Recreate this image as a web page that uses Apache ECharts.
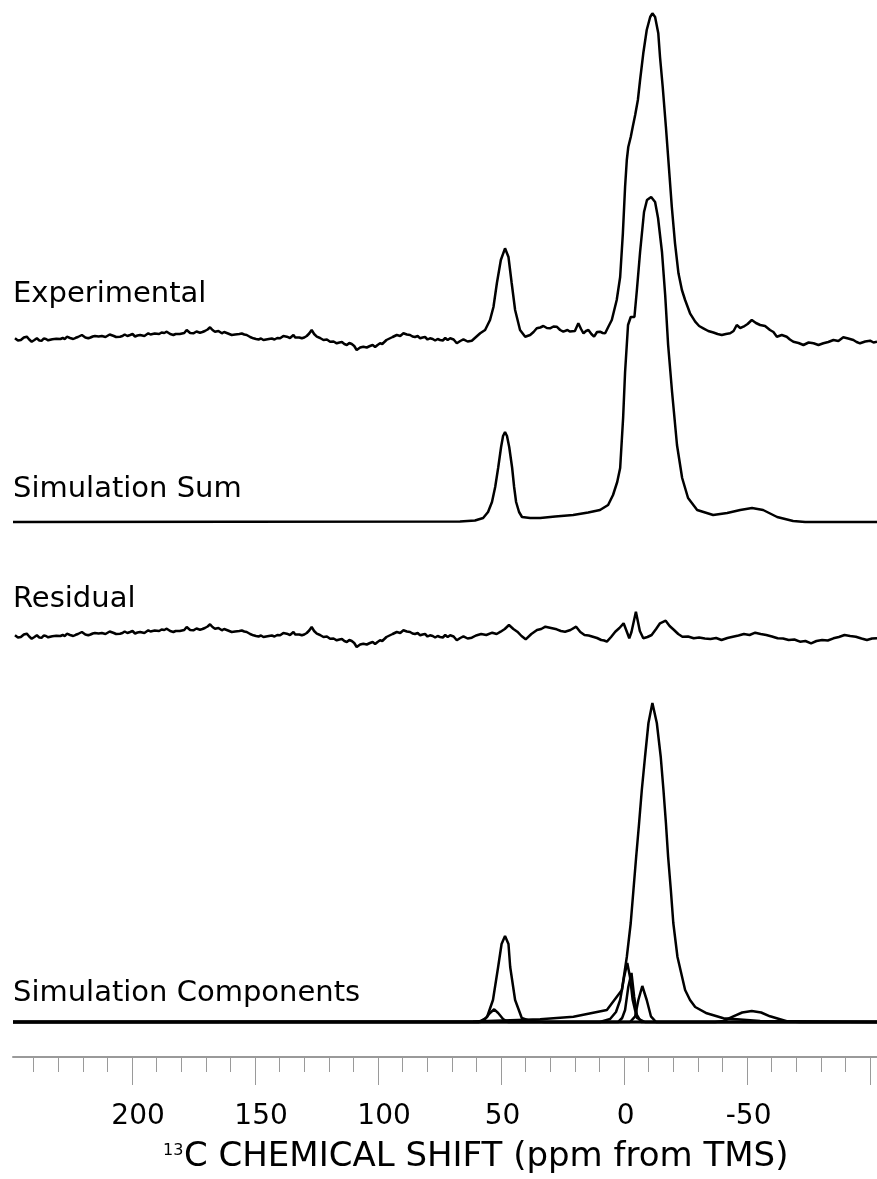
<!DOCTYPE html>
<html><head><meta charset="utf-8">
<script src="https://cdn.jsdelivr.net/npm/echarts@6/dist/echarts.min.js"></script>
<style>html,body{margin:0;padding:0;background:#fff}#c{width:877px;height:1179px}</style>
</head><body><div id="c"></div>
<script>
// x range (ppm), reversed axis
const xMin = -102.8, xMax = 248.4;
const minorTicks = [240,230,220,210,200,190,180,170,160,150,140,130,120,110,100,90,80,70,60,50,40,30,20,10,0,-10,-20,-30,-40,-50,-60,-70,-80,-90,-100];
const majorTicks = [200,150,100,50,0,-50,-100];
const tickLabels = [200,150,100,50,0,-50];
const spectrumLabels = ['Experimental','Simulation Sum','Residual','Simulation Components'];
const axisTitleSup = '13';
const axisTitleMain = 'C CHEMICAL SHIFT (ppm from TMS)';

// [ppm, intensity]
const experimental = [[247.6,1.7],[246.4,-0.5],[245.2,0],[244.0,2.5],[242.8,3.3],[241.8,0.5],[240.8,-1.7],[239.7,0],[238.7,1.7],[237.7,-0.5],[236.7,-0.7],[235.9,1.5],[235.0,1],[234.1,-0.3],[233.3,1.7],[232.4,0.8],[231.6,-0.5],[230.8,1.2],[230.0,0],[229.1,1],[228.2,2],[227.3,1],[226.5,3.3],[225.2,2],[223.9,1],[222.9,2.2],[222.0,3],[221.2,4.5],[220.4,5],[219.7,3],[219.0,2.5],[218.4,3.5],[217.8,1.7],[216.9,2.5],[216.0,3.5],[215.1,4],[214.3,5],[213.6,3.5],[213.0,3],[212.3,4],[211.7,2.7],[210.8,3],[210.0,4],[209.1,5.5],[208.3,5],[207.4,4],[206.5,3],[205.7,4.5],[204.9,3.3],[203.9,4],[203.0,5.5],[201.9,4],[200.8,5],[199.8,6],[198.8,3.5],[197.8,4.5],[196.7,5],[195.9,3],[195.0,4],[194.2,5.5],[193.4,6.7],[192.5,5.5],[191.7,4.5],[190.8,6.5],[190.0,5.7],[189.0,6],[188.0,7.5],[186.9,7],[185.9,8.3],[185.2,7],[184.5,6],[183.8,6.5],[183.2,5],[182.3,6],[181.5,7],[180.6,6],[179.8,5],[178.8,7],[177.8,10],[177.1,8],[176.4,7],[175.7,8],[175.1,6.7],[174.4,7.5],[173.8,8.5],[173.1,8],[172.4,7.3],[171.4,8],[170.4,9],[169.3,10.5],[168.3,12.7],[167.3,10],[166.3,8.3],[165.6,9.5],[164.9,9],[164.2,7.5],[163.5,6.7],[162.6,8],[161.8,7.5],[161.0,6.5],[160.2,6],[159.5,5],[158.8,4],[158.1,5.5],[157.4,5],[156.4,6],[155.4,6.5],[154.4,5.5],[153.4,5],[152.7,3.5],[152.0,3],[151.3,2.5],[150.7,1.7],[149.6,1],[148.6,0.5],[147.6,1.5],[146.6,0],[145.5,0.5],[144.4,1],[143.2,1.5],[142.1,0.5],[141.0,2],[139.8,1.7],[139.1,3],[138.5,4],[137.8,2.5],[137.1,3.3],[136.5,2],[135.8,2],[135.1,3.5],[134.4,5],[133.7,2.5],[133.0,1.7],[132.0,2.5],[131.0,1.7],[130.0,2.5],[129.0,4],[128.0,6.5],[127.0,10],[126.0,6],[124.9,3.3],[123.6,2],[122.2,0],[120.8,0.5],[119.5,-1.7],[118.1,-1.5],[116.8,-3.3],[115.7,-2.5],[114.7,-2],[113.7,-4],[112.7,-5],[111.7,-3],[110.7,-4],[109.7,-6],[108.7,-10],[107.3,-7.5],[106.0,-6.7],[104.6,-7.5],[103.3,-6],[102.2,-5],[101.2,-7],[100.2,-5],[99.2,-3.3],[98.3,-4],[97.5,-2],[96.6,0],[95.8,1.7],[94.1,3],[92.4,5],[91.0,4],[89.7,6.7],[88.3,5.5],[87.0,5],[86.0,3.5],[85.0,3],[83.9,4],[82.9,1.7],[81.9,2.5],[80.9,3],[79.9,0.5],[78.9,1.7],[77.8,1],[76.8,-0.5],[75.8,1],[74.8,0],[73.7,-0.5],[72.7,2],[71.7,0],[70.7,1.7],[69.3,0.5],[68.0,-3.3],[66.6,-1],[65.3,0.7],[63.6,-1.5],[61.9,-0.7],[60.2,3],[58.5,6.7],[56.5,10],[54.5,20],[53.1,33],[51.7,57],[50.1,80],[48.4,91.7],[47.0,83],[45.7,57],[44.3,30],[42.3,10],[40.2,3.3],[38.2,5],[36.8,8],[35.5,11.7],[34.1,12.5],[32.8,14],[31.4,12],[30.1,11.7],[28.7,13.5],[27.4,13.3],[26.0,10],[24.7,8.3],[23.0,10],[22.1,8.5],[21.3,8.3],[20.0,9],[18.6,16.7],[17.5,11],[16.5,6.7],[15.5,9],[14.5,10],[13.3,6],[12.2,3.3],[11.0,8],[9.8,8.3],[8.7,7],[7.7,6.7],[6.4,13.3],[5.0,20],[3.0,40],[1.6,63],[0.5,106.7],[-0.4,153],[-1.1,180],[-1.7,193],[-2.7,203],[-3.5,213],[-4.5,225],[-5.6,240],[-6.5,260],[-7.8,286.7],[-9.2,310],[-10.6,323],[-11.5,326.7],[-12.6,323],[-13.9,306.7],[-14.6,283],[-15.7,253],[-17.0,213],[-18.2,173],[-19.4,133],[-20.7,96.7],[-22.1,66.7],[-23.5,50],[-24.8,40],[-26.8,26.7],[-28.9,18.3],[-30.5,14],[-32.2,11.7],[-34.2,9],[-36.3,7.5],[-38.0,6],[-39.7,5],[-41.4,6],[-43.1,6.7],[-44.5,9],[-45.8,15],[-47.2,12],[-48.5,13.3],[-50.2,16],[-51.9,20],[-53.6,17],[-55.3,15],[-57.3,14],[-59.3,10],[-60.7,8],[-62.1,3.3],[-64.1,5],[-66.1,3.3],[-67.4,0.5],[-68.8,-1.7],[-70.9,-3],[-72.9,-5],[-75.0,-2.5],[-77.0,-3.3],[-79.0,-5],[-81.0,-3.3],[-83.0,-2],[-85.1,0],[-87.1,-1],[-89.1,2.7],[-91.1,1.5],[-93.2,0],[-94.5,-2],[-95.9,-3.3],[-98.0,-1.5],[-100.0,-0.7],[-101.4,-2.5],[-102.8,-1.7]];

const simulationSum = [[248.4,0],[66.7,0.5],[60.6,1.5],[57.3,4],[55.3,10],[53.7,20],[52.4,35],[51.2,54],[50.0,75],[49.2,86],[48.4,90],[47.6,86],[46.7,75],[45.5,54],[44.7,35],[43.9,20],[42.7,10],[41.5,5],[38.2,4],[34.1,4],[28.0,5.5],[20.7,7],[14.6,9.5],[9.8,12],[6.5,17],[4.5,27],[2.8,40],[1.6,54],[0.4,104],[-0.4,150],[-1.6,197],[-2.7,205],[-4.2,205],[-5.2,232],[-6.5,270],[-8.1,310],[-9.3,322],[-11.0,325],[-12.6,320],[-13.8,304],[-15.4,270],[-16.7,227],[-17.9,177],[-19.5,130],[-21.5,77],[-23.6,44],[-26.0,24],[-29.7,12],[-36.2,7],[-41.9,9],[-47.2,12],[-52.0,14],[-56.5,12],[-62.2,5],[-68.7,1],[-73.6,0],[-102.8,0]];

const residual = [[247.6,1.7],[246.4,-0.5],[245.2,0],[244.0,2.5],[242.8,3.3],[241.8,0.5],[240.8,-1.7],[239.7,0],[238.7,1.7],[237.7,-0.5],[236.7,-0.7],[235.9,1.5],[235.0,1],[234.1,-0.3],[233.3,1.7],[232.4,0.8],[231.6,-0.5],[230.8,1.2],[230.0,0],[229.1,1],[228.2,2],[227.3,1],[226.5,3.3],[225.2,2],[223.9,1],[222.9,2.2],[222.0,3],[221.2,4.5],[220.4,5],[219.7,3],[219.0,2.5],[218.4,3.5],[217.8,1.7],[216.9,2.5],[216.0,3.5],[215.1,4],[214.3,5],[213.6,3.5],[213.0,3],[212.3,4],[211.7,2.7],[210.8,3],[210.0,4],[209.1,5.5],[208.3,5],[207.4,4],[206.5,3],[205.7,4.5],[204.9,3.3],[203.9,4],[203.0,5.5],[201.9,4],[200.8,5],[199.8,6],[198.8,3.5],[197.8,4.5],[196.7,5],[195.9,3],[195.0,4],[194.2,5.5],[193.4,6.7],[192.5,5.5],[191.7,4.5],[190.8,6.5],[190.0,5.7],[189.0,6],[188.0,7.5],[186.9,7],[185.9,8.3],[185.2,7],[184.5,6],[183.8,6.5],[183.2,5],[182.3,6],[181.5,7],[180.6,6],[179.8,5],[178.8,7],[177.8,10],[177.1,8],[176.4,7],[175.7,8],[175.1,6.7],[174.4,7.5],[173.8,8.5],[173.1,8],[172.4,7.3],[171.4,8],[170.4,9],[169.3,10.5],[168.3,12.7],[167.3,10],[166.3,8.3],[165.6,9.5],[164.9,9],[164.2,7.5],[163.5,6.7],[162.6,8],[161.8,7.5],[161.0,6.5],[160.2,6],[159.5,5],[158.8,4],[158.1,5.5],[157.4,5],[156.4,6],[155.4,6.5],[154.4,5.5],[153.4,5],[152.7,3.5],[152.0,3],[151.3,2.5],[150.7,1.7],[149.6,1],[148.6,0.5],[147.6,1.5],[146.6,0],[145.5,0.5],[144.4,1],[143.2,1.5],[142.1,0.5],[141.0,2],[139.8,1.7],[139.1,3],[138.5,4],[137.8,2.5],[137.1,3.3],[136.5,2],[135.8,2],[135.1,3.5],[134.4,5],[133.7,2.5],[133.0,1.7],[132.0,2.5],[131.0,1.7],[130.0,2.5],[129.0,4],[128.0,6.5],[127.0,10],[126.0,6],[124.9,3.3],[123.6,2],[122.2,0],[120.8,0.5],[119.5,-1.7],[118.1,-1.5],[116.8,-3.3],[115.7,-2.5],[114.7,-2],[113.7,-4],[112.7,-5],[111.7,-3],[110.7,-4],[109.7,-6],[108.7,-10],[107.3,-7.5],[106.0,-6.7],[104.6,-7.5],[103.3,-6],[102.2,-5],[101.2,-7],[100.2,-5],[99.2,-3.3],[98.3,-4],[97.5,-2],[96.6,0],[95.8,1.7],[94.1,3],[92.4,5],[91.0,4],[89.7,6.7],[88.3,5.5],[87.0,5],[86.0,3.5],[85.0,3],[83.9,4],[82.9,1.7],[81.9,2.5],[80.9,3],[79.9,0.5],[78.9,1.7],[77.8,1],[76.8,-0.5],[75.8,1],[74.8,0],[73.7,-0.5],[72.7,2],[71.7,0],[70.7,1.7],[69.3,0.5],[68.0,-3.3],[66.6,-1],[65.3,0.7],[63.6,-1.5],[61.9,-0.7],[60.2,1.5],[58.1,3],[56.0,2],[53.6,4.3],[51.8,3],[50.2,5.3],[48.5,8],[46.8,12],[45.0,8],[43.4,5.3],[41.7,1],[40.0,-2.3],[37.7,3],[35.4,7],[33.7,8],[32.0,10.3],[29.7,9],[27.4,7.7],[25.7,6],[24.0,5.3],[21.8,7],[19.5,10.3],[17.8,5],[16.1,2],[14.4,1.5],[12.7,0.3],[11.0,-1],[9.3,-3],[8.1,-3.5],[7.0,-4.7],[5.3,0],[3.6,5.3],[1.9,9],[0.2,13.7],[-1.0,6],[-2.1,-1.3],[-3.0,5],[-4.8,25.3],[-6.4,6],[-7.8,-1.3],[-9.5,0],[-11.2,2],[-13.0,8],[-14.6,13.7],[-16.9,16.3],[-18.5,11],[-20.3,7],[-22.0,3],[-23.7,0.3],[-26.0,0.5],[-28.3,-1.3],[-30.5,-0.5],[-32.8,-1.5],[-35.1,-2],[-37.4,-1],[-39.6,-3],[-42.0,-1],[-44.2,0.3],[-46.5,1.5],[-48.7,3],[-51.0,2],[-53.3,4.3],[-55.5,3],[-57.8,2],[-60.1,0.5],[-62.4,-1.3],[-64.6,-1.5],[-66.9,-3],[-69.2,-2.5],[-71.5,-4.7],[-73.7,-4],[-76.0,-6.3],[-78.2,-4],[-80.5,-3],[-82.8,-3.5],[-85.1,-1.3],[-87.3,0],[-89.6,2],[-91.9,1],[-94.2,0.3],[-96.5,-1.5],[-98.7,-3],[-100.8,-1.5],[-102.8,-1.3]];

const compMain = [[248.4,0],[61.4,0.5],[34.1,2.7],[20.6,5.3],[7.0,12],[0.9,32],[-1.1,65],[-2.7,99],[-3.8,132],[-4.9,165],[-6.1,199],[-7.2,232],[-8.5,265],[-9.9,299],[-11.5,319],[-13.3,299],[-14.9,265],[-16.0,232],[-17.0,199],[-17.9,165],[-19.0,132],[-20.0,99],[-21.7,65],[-24.8,32],[-26.8,22],[-28.9,15],[-33.6,8.7],[-40.4,3.7],[-55.3,1],[-102.8,0]];
const comp48 = [[248.4,0],[58.5,0],[55.7,5],[53.3,22],[51.2,55],[49.8,78],[48.4,86],[47.0,78],[46.3,55],[44.3,22],[41.6,4],[38.2,1],[32.1,0],[-102.8,0]];
const comp53 = [[248.4,0],[59.3,0],[56.5,3],[54.5,9],[52.8,12.7],[51.2,9],[49.2,3],[47.2,0],[-102.8,0]];
const compA = [[248.4,0],[9.8,0],[5.7,3],[3.3,10],[1.6,22],[0.0,45],[-1.3,59],[-2.4,45],[-3.5,22],[-5.2,4],[-8.5,0],[-102.8,0]];
const compB = [[248.4,0],[2.4,0],[0.8,4],[-0.4,12],[-1.7,35],[-3.0,49],[-4.1,25],[-5.2,7],[-6.9,0],[-102.8,0]];
const compC = [[248.4,0],[-2.4,0],[-4.5,5.7],[-5.8,22],[-7.4,36],[-9.2,22],[-10.9,5.7],[-13.0,0],[-102.8,0]];
const compBroad = [[248.4,0],[-37.0,0],[-40.4,1],[-44.4,5.7],[-48.0,9.5],[-51.9,11],[-55.7,9.5],[-59.3,5.7],[-66.1,0.7],[-71.5,0],[-102.8,0]];
const components = [compMain, comp48, comp53, compA, compB, compC, compBroad];

const FONT = '"DejaVu Sans", Verdana, sans-serif';
const lineStyle = {color:'#000', width:2.5};

const grids = [
  {left:13, right:0, top:0, height:360},     // experimental
  {left:13, right:0, top:180, height:360},   // sum
  {left:13, right:0, top:560, height:100},   // residual
  {left:13, right:0, top:690, height:340},   // components
  {left:13, right:0, top:1000, height:57},   // minor ticks
  {left:13, right:0, top:1000, height:57}    // major ticks + labels
];
const yRanges = [[-20,340],[-18,342],[-23,77],[-8,332],[0,1],[0,1]];

const xAxes = grids.map((g,i)=>({type:'value', gridIndex:i, min:xMin, max:xMax, inverse:true, show:false}));
xAxes[4] = {type:'value', gridIndex:4, min:xMin, max:xMax, inverse:true, position:'bottom',
  axisLine:{show:true, lineStyle:{color:'#9a9a9a', width:2}},
  axisTick:{show:true, length:15, customValues:minorTicks, lineStyle:{color:'#9a9a9a', width:1}},
  axisLabel:{show:false}, splitLine:{show:false}};
xAxes[5] = {type:'value', gridIndex:5, min:xMin, max:xMax, inverse:true, position:'bottom',
  axisLine:{show:false},
  axisTick:{show:true, length:28, customValues:majorTicks, lineStyle:{color:'#9a9a9a', width:1}},
  axisLabel:{show:true, customValues:tickLabels, fontSize:28, fontFamily:FONT, color:'#000', margin:46,
    formatter: v => (Math.abs(v) >= 100 ? '{p|}' : '{q|}') + v,
    rich:{p:{width:12}, q:{width:3}}},
  splitLine:{show:false}};
const yAxes = grids.map((g,i)=>({type:'value', gridIndex:i, min:yRanges[i][0], max:yRanges[i][1], show:false}));

const mk = (data, gi) => ({type:'line', xAxisIndex:gi, yAxisIndex:gi, data, showSymbol:false, symbol:'none',
  lineStyle, animation:false, silent:true});
const series = [mk(experimental,0), mk(simulationSum,1), mk(residual,2)]
  .concat(components.map(c => mk(c,3)));

const labelY = [294, 489, 599, 993];
const graphic = spectrumLabels.map((t,i)=>({type:'text', x:13, y:labelY[i],
  style:{text:t, fontSize:29, fontFamily:FONT, fill:'#000', verticalAlign:'middle', align:'left'}}));
graphic.push({type:'text', x:163, y:1151, style:{text:axisTitleSup, fontSize:16, fontFamily:FONT, fill:'#000', verticalAlign:'middle', align:'left'}});
graphic.push({type:'text', x:184, y:1157, style:{text:axisTitleMain, fontSize:34, fontFamily:FONT, fill:'#000', verticalAlign:'middle', align:'left'}});

const chart = echarts.init(document.getElementById('c'), null, {renderer:'canvas'});
chart.setOption({animation:false, backgroundColor:'#fff', grid:grids, xAxis:xAxes, yAxis:yAxes, series, graphic});
</script></body></html>
